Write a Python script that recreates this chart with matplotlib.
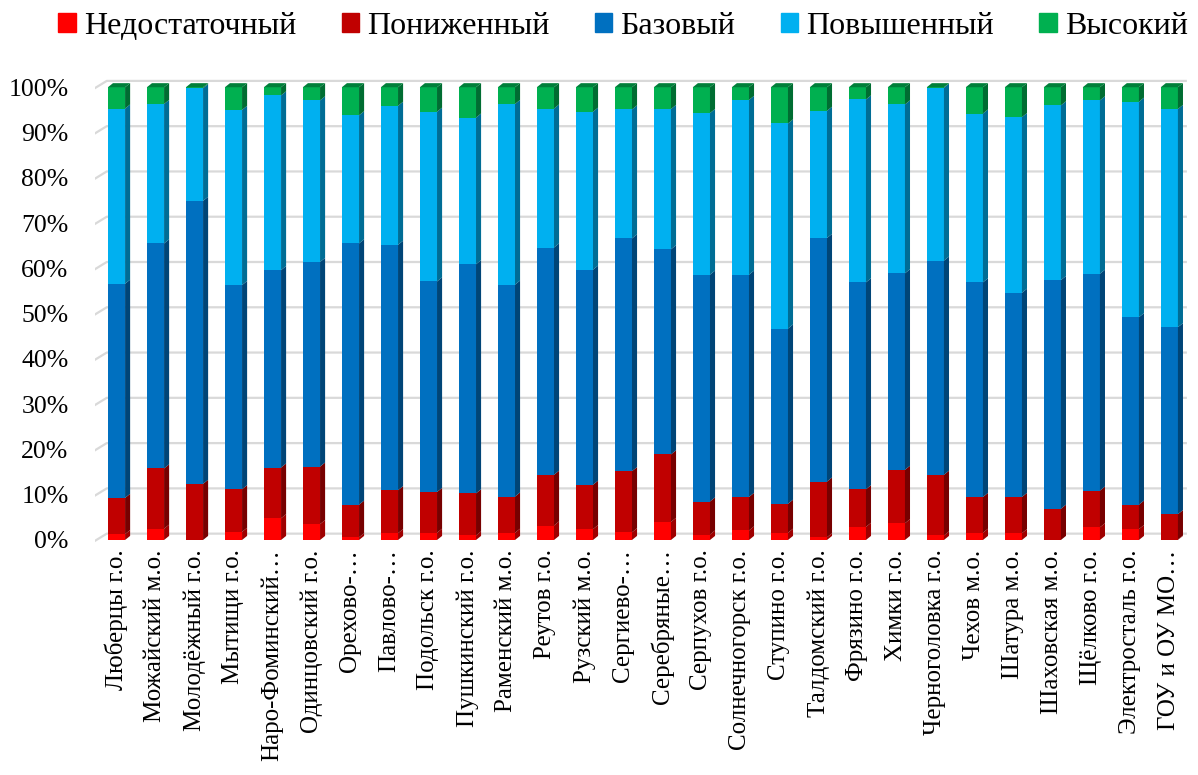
import matplotlib.pyplot as plt
import numpy as np
from matplotlib.patches import Polygon, Patch
from matplotlib.colors import to_rgb

plt.rcParams['font.family'] = ['Liberation Serif', 'DejaVu Serif']

districts = ['Люберцы г.о.', 'Можайский м.о.', 'Молодёжный г.о.', 'Мытищи г.о.',
             'Наро-Фоминский…', 'Одинцовский г.о.', 'Орехово-…', 'Павлово-…',
             'Подольск г.о.', 'Пушкинский г.о.', 'Раменский м.о.', 'Реутов г.о.',
             'Рузский м.о.', 'Сергиево-…', 'Серебряные…', 'Серпухов г.о.',
             'Солнечногорск г.о.', 'Ступино г.о.', 'Талдомский г.о.', 'Фрязино г.о.',
             'Химки г.о.', 'Черноголовка г.о.', 'Чехов м.о.', 'Шатура м.о.',
             'Шаховская м.о.', 'Щёлково г.о.', 'Электросталь г.о.', 'ГОУ и ОУ МО…']

# доли уровней, %
nedost = [1.3, 2.5, 0.0, 1.8, 4.8, 3.5, 0.6, 1.5, 1.6, 1.0, 1.6, 3.2, 2.4, 1.7,
          4.0, 1.2, 2.1, 1.6, 0.6, 2.9, 3.7, 1.0, 1.6, 1.5, 0.0, 2.8, 2.4, 0.1]
ponizh = [8.0, 13.3, 12.4, 9.4, 11.2, 12.7, 7.2, 9.5, 9.0, 9.3, 8.0, 11.2, 9.8, 13.5,
          14.9, 7.3, 7.4, 6.4, 12.3, 8.3, 11.8, 13.4, 7.9, 8.0, 6.9, 8.1, 5.4, 5.6]
bazov = [47.3, 49.7, 62.5, 45.1, 43.6, 45.2, 57.7, 54.2, 46.5, 50.6, 46.8, 50.2, 47.5, 51.4,
         45.3, 50.1, 49.1, 38.7, 53.8, 45.7, 43.4, 47.3, 47.4, 45.1, 50.5, 47.9, 41.4, 41.3]
povysh = [38.7, 30.8, 24.9, 38.7, 38.6, 35.7, 28.3, 30.7, 37.5, 32.4, 39.9, 30.7, 34.9, 28.5,
          31.0, 35.7, 38.6, 45.3, 28.1, 40.4, 37.3, 38.2, 37.3, 38.8, 38.6, 38.3, 47.6, 48.2]
vysok = [4.7, 3.7, 0.2, 5.0, 1.8, 2.9, 6.2, 4.1, 5.4, 6.7, 3.7, 4.7, 5.4, 4.9,
         4.8, 5.7, 2.8, 8.0, 5.2, 2.7, 3.8, 0.1, 5.8, 6.6, 4.0, 2.9, 3.2, 4.8]

levels = ['Недостаточный', 'Пониженный', 'Базовый', 'Повышенный', 'Высокий']
series = [nedost, ponizh, bazov, povysh, vysok]
colors = ['#FF0000', '#C00000', '#0070C0', '#00B0F0', '#00B050']


def shade(c, k):
    r, g, b = to_rgb(c)
    return (r * k, g * k, b * k)


fig = plt.figure(figsize=(11.98, 7.75), dpi=100)
ax = fig.add_axes([95 / 1198, 0.2929, 1095 / 1198, 0.6103])

x = np.arange(len(districts))
w = 0.44
dx, dy = 0.13, 0.9

# сетка на задней стенке
for p in range(0, 101, 10):
    ax.plot([-0.63, -0.25, 27.45], [p - 0.6, p + 1.4, p + 1.4],
            color='#d9d9d9', lw=1.6, zorder=0, solid_capstyle='butt')

bottom = np.zeros(len(districts))
for vals, col in zip(series, colors):
    vals = np.array(vals)
    ax.bar(x, vals, w, bottom=bottom, color=col, zorder=2, linewidth=0)
    for xi, b, v in zip(x, bottom, vals):
        if v <= 0:
            continue
        r = xi + w / 2
        side = [(r, b), (r + dx, b + dy), (r + dx, b + v + dy), (r, b + v)]
        ax.add_patch(Polygon(side, closed=True, color=shade(col, 0.62), lw=0, zorder=2))
    bottom = bottom + vals

# верхняя грань столбцов
for xi, top in zip(x, bottom):
    l = xi - w / 2
    poly = [(l, top), (l + dx, top + dy), (l + w + dx, top + dy), (l + w, top)]
    ax.add_patch(Polygon(poly, closed=True, color=shade(colors[-1], 0.72), lw=0, zorder=3))

ax.set_xlim(-0.551, 27.53)
ax.set_ylim(-1.77, 102.7)
for s in ax.spines.values():
    s.set_visible(False)

ax.set_yticks(range(0, 101, 10))
ax.set_yticklabels([f'{p}%' for p in range(0, 101, 10)], fontsize=18.5)
ax.set_xticks(x)
ax.set_xticklabels(districts, rotation=90, fontsize=18, va='top')
ax.tick_params(axis='y', length=0, pad=19)
ax.tick_params(axis='x', length=0, pad=1)

handles = [Patch(color=c, label=l) for c, l in zip(colors, levels)]
fig.legend(handles=handles, loc='upper center', bbox_to_anchor=(0.52, 1.022), ncol=5,
           frameon=False, fontsize=23, handlelength=0.55, handleheight=0.55,
           handletextpad=0.25, columnspacing=1.42)

fig.savefig('out.png', dpi=100)
